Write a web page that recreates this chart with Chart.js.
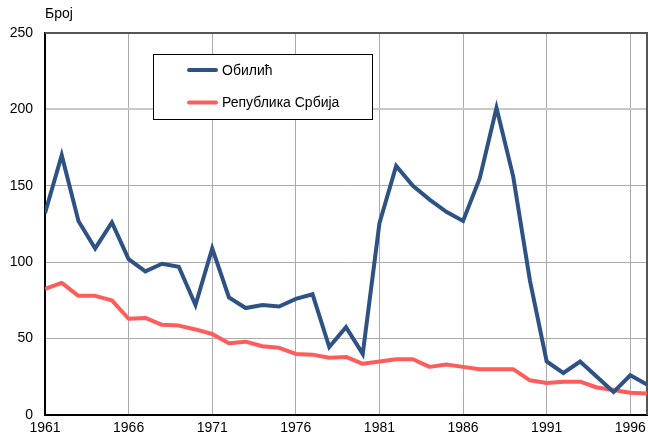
<!DOCTYPE html>
<html>
<head>
<meta charset="utf-8">
<script src="https://cdn.jsdelivr.net/npm/chart.js@4/dist/chart.umd.min.js"></script>
<style>
html,body{margin:0;padding:0;background:#fff;}
#wrap{position:relative;width:648px;height:441px;}
</style>
</head>
<body>
<div id="wrap"><canvas id="c" width="648" height="441"></canvas></div>
<script>
const years = [1961,1962,1963,1964,1965,1966,1967,1968,1969,1970,1971,1972,1973,1974,1975,1976,1977,1978,1979,1980,1981,1982,1983,1984,1985,1986,1987,1988,1989,1990,1991,1992,1993,1994,1995,1996,1997];
const obilic = [132,170,127,109,126,102,94,99,97,72,109,77,70,72,71,76,79,44.5,57.5,40,125.5,163,150,141,133,127,155,201,156,88,35,27.5,35,25,15,26,20];
const srbija = [82.5,86.5,78,78,75,63,63.5,59,58.5,56,53,47,48,45,44,40,39.5,37.5,38,33.5,35,36.5,36.5,31.5,33,31.5,30,30,30,22.7,21,21.8,21.8,18,16.4,14.6,14];
const seriesNames = ['Обилић','Република Србија'];
const xTicks = [1961,1966,1971,1976,1981,1986,1991,1996];
const yLabel = 'Број';

const FONT = '"Liberation Sans", Arial, sans-serif';

const extras = {
  id:'extras',
  beforeDatasetsDraw(chart){
    const a = chart.chartArea, ctx = chart.ctx;
    ctx.save();
    ctx.strokeStyle = '#555';
    ctx.lineWidth = 2;
    ctx.beginPath();
    ctx.moveTo(a.left, a.top);
    ctx.lineTo(a.right, a.top);
    ctx.lineTo(a.right, a.bottom);
    ctx.stroke();
    ctx.restore();
  },
  afterDraw(chart){
    const ctx = chart.ctx;
    ctx.save();
    ctx.fillStyle = '#000';
    ctx.font = '14px ' + FONT;
    ctx.textBaseline = 'alphabetic';
    ctx.textAlign = 'left';
    ctx.fillText(yLabel, 45, 18);
    const bx = 153.5, by = 54.5, bw = 219, bh = 65;
    ctx.fillStyle = '#fff';
    ctx.fillRect(bx, by, bw, bh);
    ctx.strokeStyle = '#000';
    ctx.lineWidth = 1;
    ctx.strokeRect(bx, by, bw, bh);
    chart.data.datasets.forEach((ds, i) => {
      const yy = 70 + i * 32.5;
      ctx.strokeStyle = ds.borderColor;
      ctx.lineWidth = 4;
      ctx.lineCap = 'round';
      ctx.beginPath();
      ctx.moveTo(189, yy);
      ctx.lineTo(216, yy);
      ctx.stroke();
      ctx.fillStyle = '#000';
      ctx.font = '14px ' + FONT;
      ctx.textBaseline = 'middle';
      ctx.fillText(ds.label, 222, yy + 1);
    });
    ctx.restore();
  }
};

new Chart(document.getElementById('c'), {
  type: 'line',
  data: {
    datasets: [
      {label: seriesNames[0], data: years.map((y,i)=>({x:y, y:obilic[i]})), borderColor:'#2e5283', borderWidth:4, pointRadius:0, tension:0, borderJoinStyle:'miter'},
      {label: seriesNames[1], data: years.map((y,i)=>({x:y, y:srbija[i]})), borderColor:'#ff5c5c', borderWidth:4, pointRadius:0, tension:0, borderJoinStyle:'round'}
    ]
  },
  options: {
    responsive:false,
    animation:false,
    events:[],
    layout:{padding:{top:33, right:1, left:0, bottom:0}},
    plugins:{legend:{display:false}, tooltip:{enabled:false}, title:{display:false}},
    scales:{
      x:{
        type:'linear', min:1961, max:1997,
        afterBuildTicks(scale){ scale.ticks = xTicks.map(v=>({value:v})); },
        afterFit(scale){ scale.height = 26; scale.paddingRight = 0; scale.paddingLeft = 0; },
        grid:{color:'#aaa', lineWidth:1, drawTicks:false},
        border:{color:'#000', width:2},
        ticks:{color:'#000', font:{family:FONT, size:14}, padding:5, maxRotation:0, autoSkip:false, callback:v=>String(v)}
      },
      y:{
        min:0, max:250,
        afterFit(scale){ scale.width = 45; scale.paddingTop = 0; scale.paddingBottom = 0; },
        grid:{color:(c)=> c.tick && c.tick.value===250 ? 'rgba(0,0,0,0)' : (c.tick && c.tick.value===200 ? '#c8c8c8' : '#aaa'), lineWidth:(c)=> c.tick && c.tick.value===200 ? 2 : 1, drawTicks:false},
        border:{color:'#000', width:2},
        ticks:{stepSize:50, color:'#000', font:{family:FONT, size:14}, padding:12}
      }
    }
  },
  plugins:[extras]
});
</script>
</body>
</html>
